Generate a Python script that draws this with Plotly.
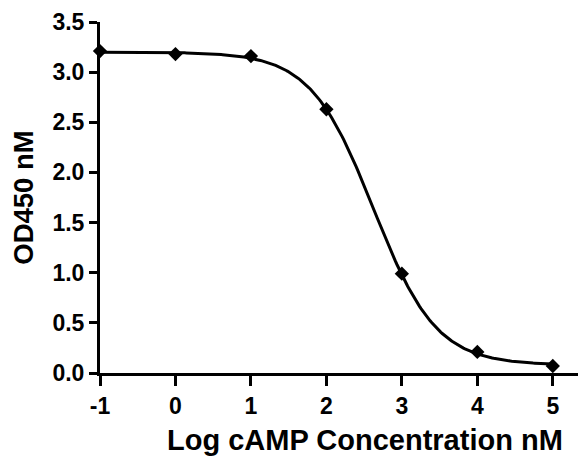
import numpy as np
import plotly.graph_objects as go

# Measured data points
log_conc = [-1, 0, 1, 2, 3, 4, 5]
od450 = [3.21, 3.18, 3.16, 2.63, 0.99, 0.21, 0.07]

# Four-parameter logistic fit parameters
fit_top = 3.20
fit_bottom = 0.08
fit_log_ec50 = 2.623
fit_hill = 1.043

x_ticks = [-1, 0, 1, 2, 3, 4, 5]
y_ticks = [0.0, 0.5, 1.0, 1.5, 2.0, 2.5, 3.0, 3.5]

x_title = "Log cAMP Concentration nM"
y_title = "OD450 nM"

x_fit = np.linspace(-1, 5, 300)
y_fit = fit_bottom + (fit_top - fit_bottom) / (1 + 10 ** ((x_fit - fit_log_ec50) * fit_hill))

font_family = "Liberation Sans, Arial, sans-serif"

fig = go.Figure()
fig.add_trace(go.Scatter(x=x_fit, y=y_fit, mode="lines",
                         line=dict(color="black", width=3),
                         cliponaxis=False, showlegend=False, hoverinfo="skip"))
fig.add_trace(go.Scatter(x=log_conc, y=od450, mode="markers",
                         marker=dict(symbol="diamond", size=11, color="black"),
                         cliponaxis=False, showlegend=False))

# x-axis title sits right of the plot centre in the reference, so use an annotation
fig.add_annotation(text=x_title, xref="paper", yref="paper", x=0.545, y=0,
                   xanchor="center", yanchor="middle", yshift=-67, showarrow=False,
                   font=dict(size=29, family=font_family, weight="bold", color="black"))

# page body has an 8px margin, so the figure is sized to fit the window
fig.update_layout(
    width=578, height=448,
    margin=dict(l=92, r=0, t=14, b=83),
    paper_bgcolor="white", plot_bgcolor="white",
    font=dict(family=font_family, color="black"),
    xaxis=dict(range=[-1, 5.44], tickvals=x_ticks, ticktext=[str(v) for v in x_ticks],
               showline=True, linecolor="black", linewidth=3,
               ticks="outside", ticklen=10, tickwidth=3, tickcolor="black",
               showgrid=False, zeroline=False, automargin=False,
               tickfont=dict(size=23, family=font_family, weight="bold")),
    yaxis=dict(range=[0, 3.5], tickvals=y_ticks, ticktext=[f"{v:.1f}" for v in y_ticks],
               showline=True, linecolor="black", linewidth=3,
               ticks="outside", ticklen=8, tickwidth=3, tickcolor="black",
               showgrid=False, zeroline=False, automargin=False,
               tickfont=dict(size=23, family=font_family, weight="bold"),
               title=dict(text=y_title,
                          font=dict(size=27.5, family=font_family, weight="bold"),
                          standoff=12)),
)

fig.write_html("out.html")
